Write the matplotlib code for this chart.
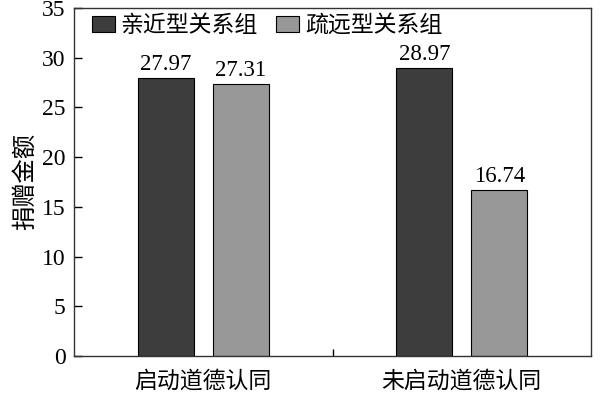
import numpy as np
import matplotlib
matplotlib.use('Agg')
import matplotlib.pyplot as plt

plt.rcParams['font.family'] = ['Liberation Serif', 'Noto Sans CJK SC']

# data
categories = ['启动道德认同', '未启动道德认同']
groups = ['亲近型关系组', '疏远型关系组']
close_vals = [27.97, 28.97]
distant_vals = [27.31, 16.74]

colors = ['#3d3d3d', '#989898']

fig = plt.figure(figsize=(6.0, 3.96), dpi=100)
ax = fig.add_axes([74/600, 1-356/396, 517/600, 348/396])

x = np.arange(len(categories))
w = 0.215
off = 0.145

for vals, dx, c, lab in [(close_vals, -off, colors[0], groups[0]),
                         (distant_vals, off, colors[1], groups[1])]:
    bars = ax.bar(x + dx, vals, w, color=c, edgecolor='black', linewidth=0.8, label=lab)
    for b, v in zip(bars, vals):
        ax.text(b.get_x() + b.get_width()/2, v + 0.3, '%.2f' % v,
                ha='center', va='bottom', fontsize=16.5)

ax.set_xlim(-0.5, 1.5)
ax.set_ylim(0, 35)
ax.set_yticks(np.arange(0, 36, 5))
ax.set_xticks(x)
ax.set_xticklabels(categories, fontsize=16.5)
ax.set_xticks([0.5], minor=True)
ax.tick_params(axis='x', which='major', length=0, pad=11)
ax.tick_params(axis='x', which='minor', direction='in', length=5, width=1)
ax.tick_params(axis='y', direction='in', length=6, width=1, labelsize=17, pad=6)
ax.set_ylabel('捐赠金额', fontsize=17.5, labelpad=4)

for s in ax.spines.values():
    s.set_linewidth(1.0)
    s.set_color('#333333')

ax.legend(loc='center left', ncol=2, frameon=False, fontsize=16.5,
          handlelength=1.0, handleheight=0.7, handletextpad=0.25,
          columnspacing=0.8, borderpad=0.0, borderaxespad=0.0,
          bbox_to_anchor=(0.035, 0.948))

fig.savefig('out.png', dpi=100)
